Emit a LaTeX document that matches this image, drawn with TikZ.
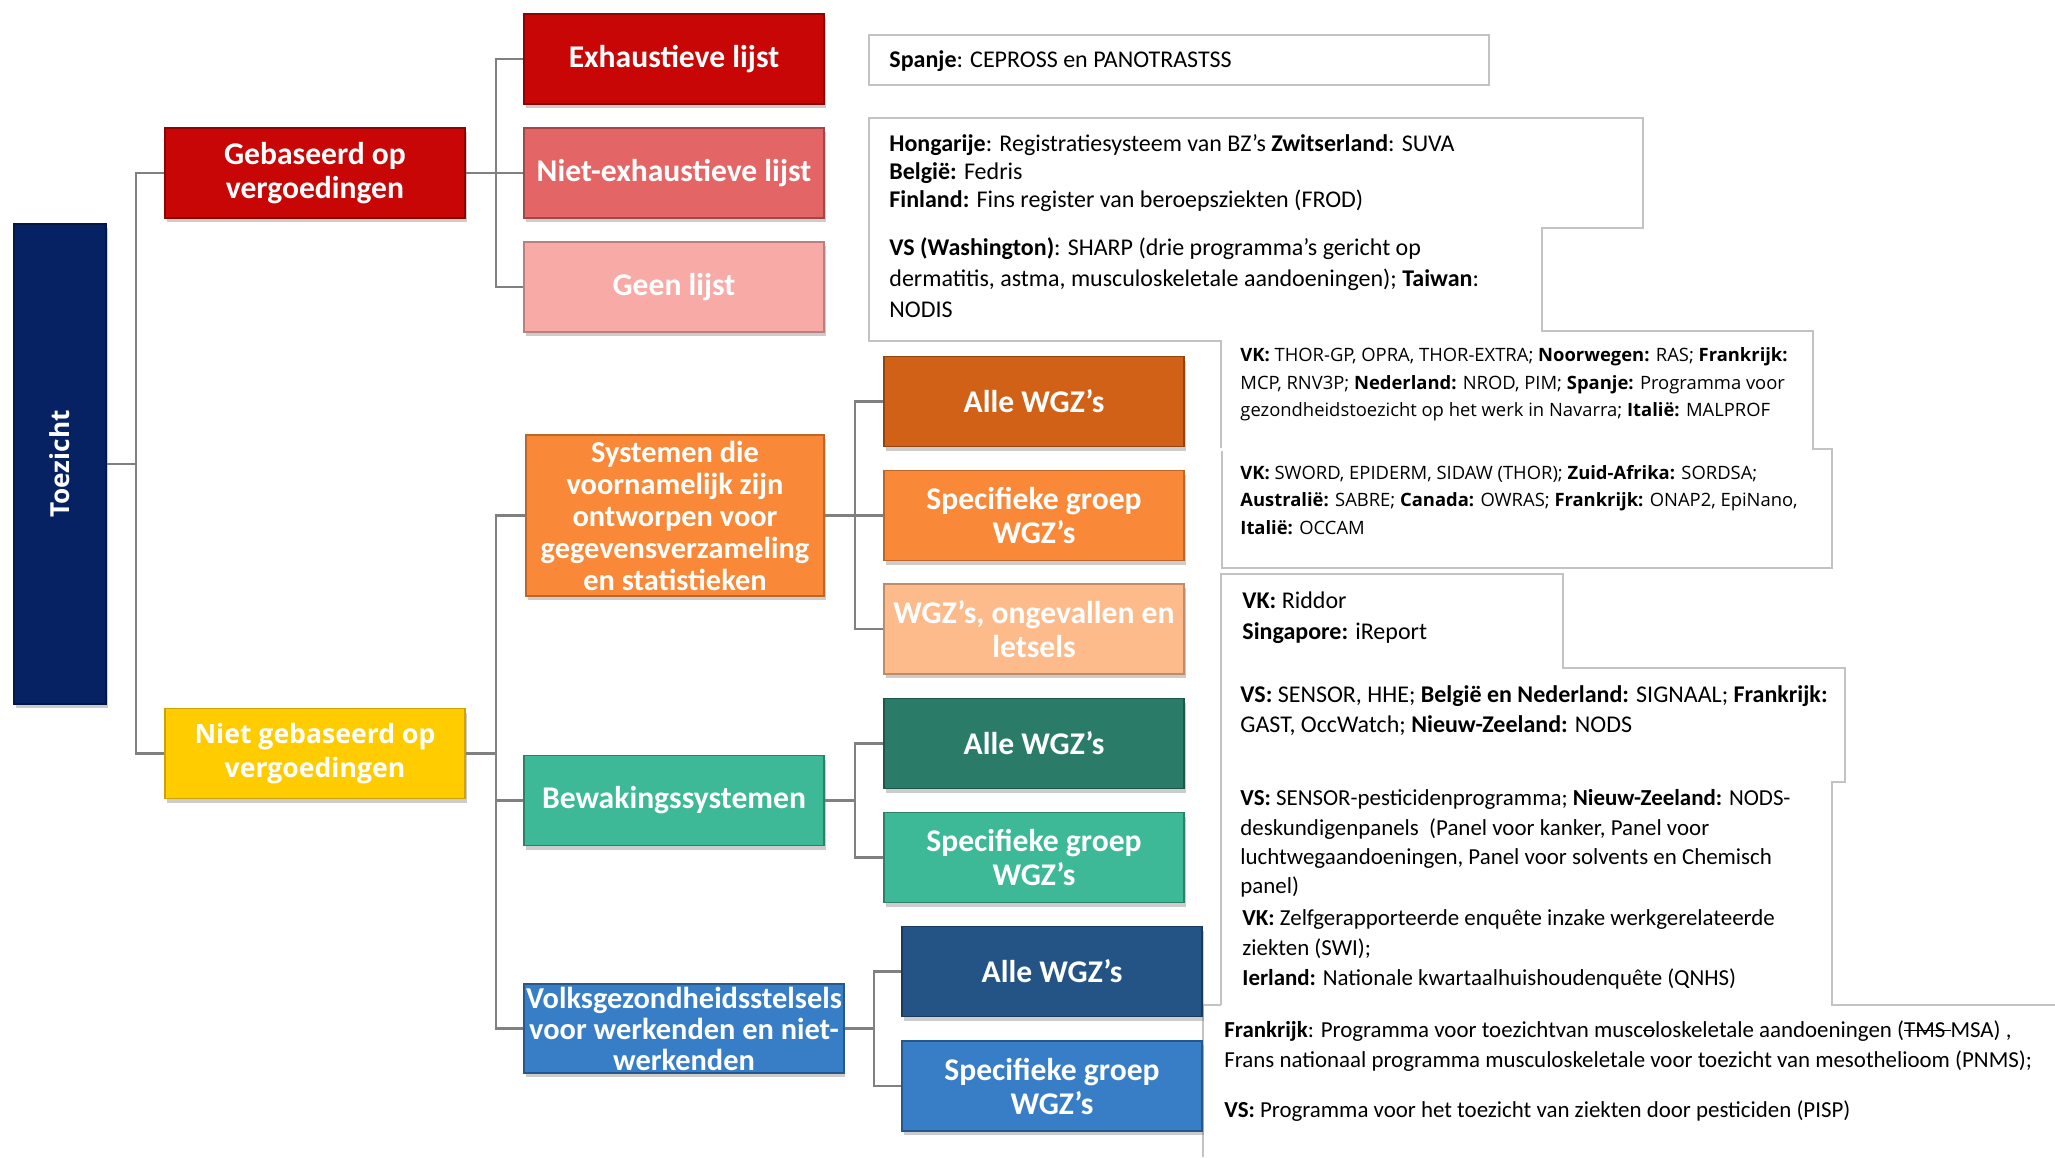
\documentclass[tikz,border=0pt]{standalone}
\usepackage{fontspec}
\setmainfont{Carlito}
\newfontfamily\osans{Open Sans}
\usetikzlibrary{shadows}
\newcommand\mystrike[1]{\setbox0\hbox{#1}\rlap{\rule[0.27em]{\wd0}{0.5pt}}\box0}
\definecolor{toezC}{RGB}{6,34,98}
\definecolor{redC}{RGB}{200,6,6}
\definecolor{redMC}{RGB}{228,101,101}
\definecolor{redLC}{RGB}{247,170,166}
\definecolor{yelC}{RGB}{255,204,0}
\definecolor{orgDC}{RGB}{208,97,22}
\definecolor{orgC}{RGB}{249,137,56}
\definecolor{orgLC}{RGB}{253,187,140}
\definecolor{grnDC}{RGB}{42,124,104}
\definecolor{grnC}{RGB}{61,185,151}
\definecolor{bluDC}{RGB}{36,84,134}
\definecolor{bluC}{RGB}{56,126,198}
\definecolor{lineC}{RGB}{128,128,128}
\definecolor{boxC}{RGB}{195,195,195}
\newcommand\lblfont{\fontsize{15.8}{17}\selectfont\bfseries}
\begin{document}
\begin{tikzpicture}[x=0.5pt,y=-0.5pt,
  cbox/.style={rectangle, minimum width=150pt, minimum height=45pt, inner sep=1pt,
    align=center, text=white, font=\lblfont, line width=0.9pt,
    drop shadow={opacity=0.4, shadow xshift=0.8pt, shadow yshift=-2.2pt}},
  conn/.style={draw=lineC, line width=1.2pt},
  tbox/.style={draw=boxC, line width=0.75pt},
  tcal/.style={anchor=base west, inner sep=0pt, text=black, font=\fontsize{12}{14}\selectfont},
  tsm/.style={anchor=base west, inner sep=0pt, text=black, font=\fontsize{11.45}{13}\selectfont},
  tos/.style={anchor=base west, inner sep=0pt, text=black, font=\osans\fontsize{9.2}{11}\selectfont},
  tfr/.style={anchor=base west, inner sep=0pt, text=black, font=\fontsize{11.45}{13}\selectfont},
]
\fill[white] (0,0) rectangle (2055,1157);
\useasboundingbox (0,0) rectangle (2055,1157);

% text box outlines
\draw[tbox] (869,35) rectangle (1489,85);
\draw[tbox] (1221,448) -- (1221,341) -- (869,341) -- (869,118) -- (1643,118) -- (1643,228)
  -- (1542,228) -- (1542,331) -- (1813,331) -- (1813,449) -- (1832,449) -- (1832,568)
  -- (1222,568) -- (1222,451);
\draw[tbox] (1221,1005) -- (1221,574) -- (1563,574) -- (1563,668) -- (1845,668) -- (1845,782)
  -- (1832,782) -- (1832,1005) -- (2055,1005);
\draw[tbox] (1203,1157) -- (1203,1005) -- (1221,1005);

% boxes
\node[cbox, fill=toezC, draw=toezC!70!black, minimum width=46pt, minimum height=240pt] (toez) at (60,464) {};
\node[rotate=90, text=white, font=\osans\bfseries\fontsize{13.1}{14}\selectfont] (toezlbl) at (toez.center) {Toezicht};
\node[cbox, fill=redC, draw=redC!70!black] (geb) at (315,173) {Gebaseerd op\\vergoedingen};
\node[cbox, fill=yelC, draw=yelC!80!black, font=\osans\bfseries\fontsize{13.3}{17}\selectfont] (niet) at (315,753.5) {Niet gebaseerd op\\vergoedingen};
\node[cbox, fill=redC, draw=redC!70!black] (exh) at (674,59) {Exhaustieve lijst};
\node[cbox, fill=redMC, draw=redMC!70!black] (nexh) at (674,173) {Niet-exhaustieve lijst};
\node[cbox, fill=redLC, draw=redLC!75!black] (geen) at (674,287) {Geen lijst};
\node[cbox, fill=orgC, draw=orgC!75!black, minimum width=149pt, minimum height=80.5pt,
  font=\fontsize{15.2}{16}\selectfont\bfseries] (sys) at (675,515.5)
  {Systemen die\\voornamelijk zijn\\ontworpen voor\\gegevensverzameling\\en statistieken};
\node[cbox, fill=grnC, draw=grnC!70!black] (bew) at (674,800.5) {Bewakingssystemen};
\node[cbox, fill=bluC, draw=bluC!70!black, minimum width=159pt, minimum height=44.5pt,
  font=\fontsize{15.2}{15.5}\selectfont\bfseries] (vol) at (684,1028.5)
  {Volksgezondheidsstelsels\\voor werkenden en niet-\\werkenden};
\node[cbox, fill=orgDC, draw=orgDC!70!black] (aO) at (1034,401.5) {Alle WGZ’s};
\node[cbox, fill=orgC, draw=orgC!75!black] (sO) at (1034,515.5) {Specifieke groep\\WGZ’s};
\node[cbox, fill=orgLC, draw=orgLC!75!black] (uO) at (1034,629) {WGZ’s, ongevallen en\\letsels};
\node[cbox, fill=grnDC, draw=grnDC!70!black] (aG) at (1034,743.5) {Alle WGZ’s};
\node[cbox, fill=grnC, draw=grnC!70!black] (sG) at (1034,857.5) {Specifieke groep\\WGZ’s};
\node[cbox, fill=bluDC, draw=bluDC!70!black] (aB) at (1052,971.5) {Alle WGZ’s};
\node[cbox, fill=bluC, draw=bluC!70!black] (sB) at (1052,1086) {Specifieke groep\\WGZ’s};

% connectors
\draw[conn] (toez.east) -- ++(29,0) |- (geb.west);
\draw[conn] (toez.east) -- ++(29,0) |- (niet.west);
\foreach \t in {exh,nexh,geen} \draw[conn] (geb.east) -- ++(30,0) |- (\t.west);
\foreach \t in {sys,bew,vol} \draw[conn] (niet.east) -- ++(30,0) |- (\t.west);
\foreach \t in {aO,sO,uO} \draw[conn] (sys.east) -- ++(30,0) |- (\t.west);
\foreach \t in {aG,sG} \draw[conn] (bew.east) -- ++(30,0) |- (\t.west);
\foreach \t in {aB,sB} \draw[conn] (vol.east) -- ++(29,0) |- (\t.west);

% texts
\node[tcal] (sp1) at (889,67.5) {\textbf{Spanje}: CEPROSS en PANOTRASTSS};
\node[tcal] (h1) at (889,151.5) {\textbf{Hongarije}: Registratiesysteem van BZ’s \textbf{Zwitserland}: SUVA};
\node[tcal] (h2) at (889,179.5) {\textbf{België:} Fedris};
\node[tcal] (h3) at (889,207.5) {\textbf{Finland:} Fins register van beroepsziekten (FROD)};
\node[tcal] (w1) at (889,255.5) {\textbf{VS (Washington)}: SHARP (drie programma’s gericht op};
\node[tcal] (w2) at (889,286) {dermatitis, astma, musculoskeletale aandoeningen); \textbf{Taiwan}:};
\node[tcal] (w3) at (889,317) {NODIS};
\node[tos] (v11) at (1240,361.5) {\textbf{VK:} THOR-GP, OPRA, THOR-EXTRA; \textbf{Noorwegen:} RAS; \textbf{Frankrijk:}};
\node[tos] (v12) at (1240,389) {MCP, RNV3P; \textbf{Nederland:} NROD, PIM; \textbf{Spanje:} Programma voor};
\node[tos] (v13) at (1240,416.5) {gezondheidstoezicht op het werk in Navarra; \textbf{Italië:} MALPROF};
\node[tos] (v21) at (1240,479) {\textbf{VK:} SWORD, EPIDERM, SIDAW (THOR); \textbf{Zuid-Afrika:} SORDSA;};
\node[tos] (v22) at (1240,506.5) {\textbf{Australië:} SABRE; \textbf{Canada:} OWRAS; \textbf{Frankrijk:} ONAP2, EpiNano,};
\node[tos] (v23) at (1240,534) {\textbf{Italië:} OCCAM};
\node[tcal] (r1) at (1242,608.5) {\textbf{VK:} Riddor};
\node[tcal] (r2) at (1242,639.5) {\textbf{Singapore:} iReport};
\node[tcal] (s1) at (1240,702.5) {\textbf{VS:} SENSOR, HHE; \textbf{België en Nederland:} SIGNAAL; \textbf{Frankrijk:}};
\node[tcal] (s2) at (1240,732.5) {GAST, OccWatch; \textbf{Nieuw-Zeeland:} NODS};
\node[tsm] (p1) at (1240,805.5) {\textbf{VS:} SENSOR-pesticidenprogramma; \textbf{Nieuw-Zeeland:} NODS-};
\node[tsm] (p2) at (1240,835) {deskundigenpanels\ \ (Panel voor kanker, Panel voor};
\node[tsm] (p3) at (1240,864) {luchtwegaandoeningen, Panel voor solvents en Chemisch};
\node[tsm] (p4) at (1240,893.5) {panel)};
\node[tsm] (z1) at (1242,925.5) {\textbf{VK:} Zelfgerapporteerde enquête inzake werkgerelateerde};
\node[tsm] (z2) at (1242,955.5) {ziekten (SWI);};
\node[tsm] (z3) at (1242,985.5) {\textbf{Ierland:} Nationale kwartaalhuishoudenquête (QNHS)};
\node[tfr] (f1) at (1224,1037.5) {\textbf{Frankrijk}: Programma voor toezichtvan musc\mystrike{o}loskeletale aandoeningen (\mystrike{TMS }MSA) ,};
\node[tfr] (f2) at (1224,1067.5) {Frans nationaal programma musculoskeletale voor toezicht van mesothelioom (PNMS);};
\node[tfr] (f3) at (1224,1117.5) {\textbf{VS:} Programma voor het toezicht van ziekten door pesticiden (PISP)};
\end{tikzpicture}
\end{document}
